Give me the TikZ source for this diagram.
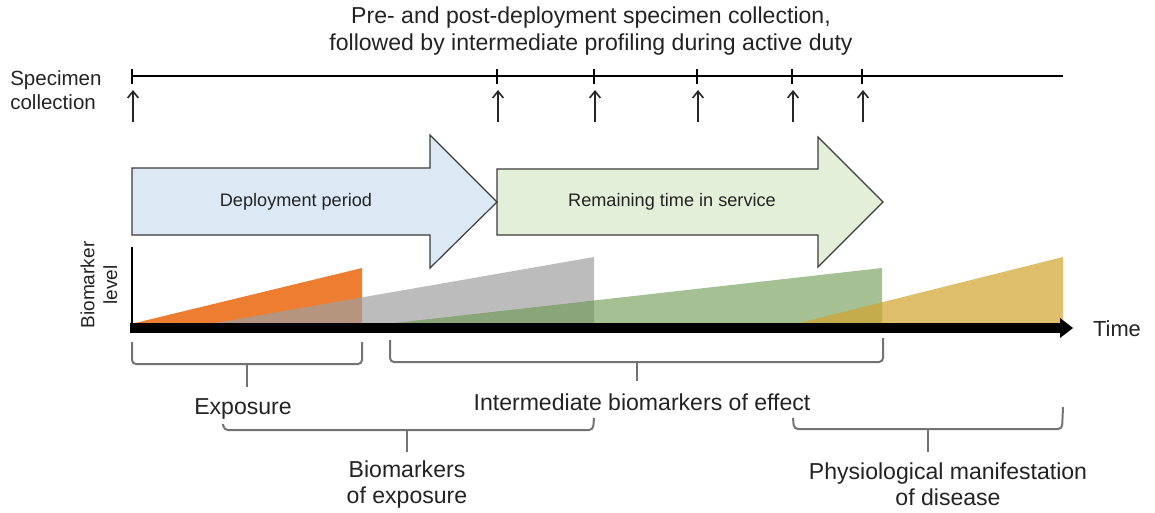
\documentclass[tikz,border=0pt]{standalone}
\usepackage{fontspec}
\setmainfont{Liberation Sans}
\usetikzlibrary{arrows.meta}
\definecolor{txt}{RGB}{35,35,35}
\definecolor{outl}{RGB}{60,60,60}
\definecolor{bluefill}{RGB}{220,233,245}
\definecolor{greenfill}{RGB}{227,239,217}
\definecolor{orangec}{RGB}{237,125,49}
\definecolor{grayc}{RGB}{160,160,160}
\definecolor{greenc}{RGB}{105,150,75}
\definecolor{goldc}{RGB}{210,163,45}
\definecolor{bracec}{RGB}{115,115,115}
\tikzset{
  lbl/.style={text=txt, inner sep=0pt, align=center, font=\fontsize{17.3}{19.5}\selectfont},
  boxlbl/.style={text=txt, inner sep=0pt, font=\fontsize{13.6}{15}\selectfont},
  blockarrow/.style={draw=outl, line width=0.9pt, line join=miter},
  brace/.style={draw=bracec, line width=1.5pt, rounded corners=3pt},
  upar/.style={draw=black!85, line width=1.1pt, -{Straight Barb[length=5pt,width=8pt,line width=1.2pt]}},
  tline/.style={draw=black, line width=1.5pt},
}
\begin{document}
\begin{tikzpicture}[x=0.75pt,y=-0.75pt]
\useasboundingbox (0,0) rectangle (1155,512);
% title
\node[lbl, font=\fontsize{17.3}{20.3}\selectfont] (title) at (591,31) {Pre- and post-deployment specimen collection,\\followed by intermediate profiling during active duty};
\node[lbl, align=left, anchor=west, font=\fontsize{15.4}{18}\selectfont] (spec) at (10,90) {Specimen\\collection};
% top timeline
\coordinate (tl0) at (132,76);
\coordinate (tl1) at (1063,76);
\draw[tline] (tl0) -- (tl1);
\foreach \i/\x in {1/132,2/497,3/594,4/697,5/792,6/862}{
  \coordinate (tk\i) at (\x,69);
  \coordinate (tb\i) at (\x,84);
  \draw[tline] (tk\i) -- (tb\i);
  \coordinate (as\i) at (\x+1,122);
  \coordinate (ae\i) at (\x+1,90);
  \draw[upar] (as\i) -- (ae\i);
}
% block arrows
\draw[blockarrow, fill=greenfill] (497,169) -- (818,169) -- (818,137) -- (883,202) -- (818,267) -- (818,235) -- (497,235) -- cycle;
\draw[blockarrow, fill=bluefill] (132,168) -- (430,168) -- (430,135) -- (497,202) -- (430,268) -- (430,235) -- (132,235) -- cycle;
\node[boxlbl] (dep) at (296,202) {Deployment period};
\node[boxlbl] (rem) at (672,202) {Remaining time in service};
% biomarker areas
\fill[orangec] (133,323.5) -- (362,268) -- (362,324) -- cycle;
\fill[grayc, opacity=0.7] (212,323.5) -- (594,257) -- (594,324) -- cycle;
\fill[greenc, opacity=0.6] (390,323.5) -- (882,268) -- (882,324) -- cycle;
\fill[goldc, opacity=0.7] (797,323.5) -- (1063,257) -- (1063,324) -- cycle;
% axes
\coordinate (yax) at (132,247);
\coordinate (org) at (132,328);
\coordinate (xend) at (1062,328);
\draw[draw=black, line width=1.5pt] (yax) -- (org);
\draw[draw=black, line width=7.5pt] (130,328) -- (xend);
\fill[black] (1060,318) -- (1073,328) -- (1060,338) -- cycle;
\node[lbl, font=\fontsize{16.4}{18}\selectfont] (time) at (1117,329) {Time};
\node[lbl, rotate=90, font=\fontsize{14.3}{17}\selectfont] (bl) at (99,285) {Biomarker\\level};
% braces
\draw[brace] (132,342) -- (132,364) -- (362,364) -- (362,342);
\draw[brace, rounded corners=2pt] (247,364) -- (247,387);
\node[lbl] (expo) at (243,409) {Exposure};
\draw[brace] (390,340) -- (390,362) -- (883,362) -- (883,338);
\draw[brace, rounded corners=2pt] (637,362) -- (637,381);
\node[lbl] (inter) at (642,402) {Intermediate biomarkers of effect};
\draw[brace] (223,424) -- (224,430) -- (593,430) -- (594,418);
\draw[brace, rounded corners=2pt] (407,430) -- (407,452);
\node[lbl] (bexp) at (407,485) {Biomarkers\\of exposure};
\draw[brace] (793,418) -- (794,429) -- (1062,429) -- (1063,407);
\draw[brace, rounded corners=2pt] (928,429) -- (928,452);
\node[lbl] (phys) at (948,484) {Physiological manifestation\\of disease};
\end{tikzpicture}
\end{document}
